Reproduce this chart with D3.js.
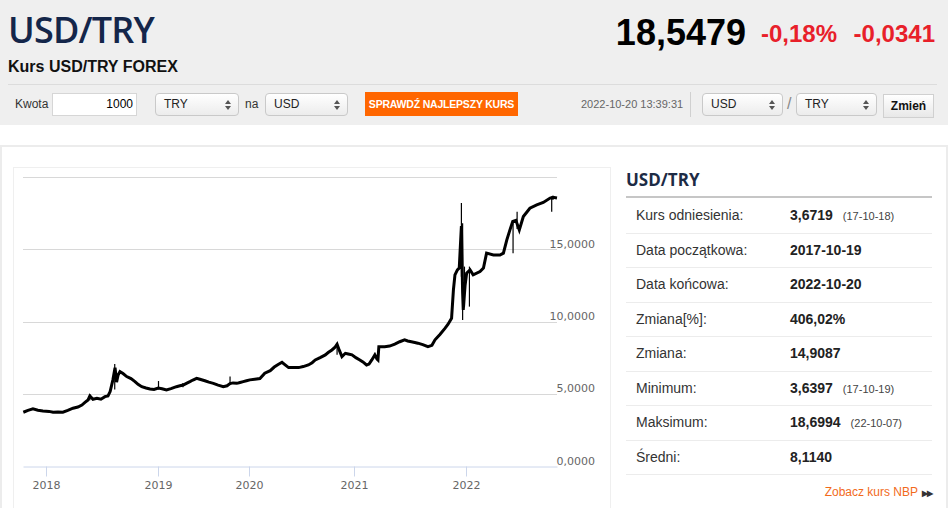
<!DOCTYPE html>
<html>
<head>
<meta charset="utf-8">
<script src="https://cdn.jsdelivr.net/npm/d3@7"></script>
<style>
  body { margin: 0; width: 948px; height: 508px; overflow: hidden; background: #fff; font-family: Arial, "Liberation Sans", sans-serif; position: relative; }
  .abs { position: absolute; }
  #top { left: 0; top: 0; width: 948px; height: 125px; background: #efefef; }
  #pair { left: 8px; top: 5px; font-family: "Open Sans", sans-serif; font-weight: 600; font-size: 36px; color: #14264a; letter-spacing: -0.8px; }
  #sub { left: 8px; top: 58px; font-weight: bold; font-size: 16px; color: #111; }
  #price { right: 202px; top: 12px; font-weight: bold; font-size: 36px; color: #000; }
  #pct { left: 761px; top: 20px; font-weight: bold; font-size: 24px; color: #e8202a; }
  #chg { right: 13px; top: 20px; font-weight: bold; font-size: 24px; color: #e8202a; }
  #hline { left: 8px; top: 84px; width: 929px; height: 1px; background: #dcdcdc; }
  .lbl { font-size: 12px; color: #333; top: 97px; }
  .box { top: 93px; height: 21px; border: 1px solid #c9c9c9; border-radius: 4px; background: linear-gradient(#ffffff, #ececec); font-size: 12px; color: #222; line-height: 21px; }
  .box span.t { position: absolute; left: 8px; }
  .box i { position: absolute; right: 7px; width: 0; height: 0; border-left: 3px solid transparent; border-right: 3px solid transparent; }
  .box i.up { top: 6px; border-bottom: 4px solid #555; }
  .box i.dn { top: 12px; border-top: 4px solid #555; }
  #amount { left: 52px; top: 93px; width: 83px; height: 21px; background: #fff; border: 1px solid #d6d6d6; font-size: 12px; line-height: 21px; text-align: right; }
  #btn { left: 365px; top: 92px; width: 153px; height: 24px; background: #ff6600; color: #fff; font-weight: bold; font-size: 10.5px; line-height: 24px; text-align: center; letter-spacing: -0.2px; }
  #ts { left: 581px; top: 98px; font-size: 11px; color: #666; }
  #vsep { left: 690px; top: 92px; width: 1px; height: 25px; background: #d0d0d0; }
  #zmien { left: 883px; top: 94px; width: 49px; height: 22px; border: 1px solid #d0d0d0; background: linear-gradient(#ffffff, #e8e8e8); font-weight: bold; font-size: 12px; line-height: 22px; text-align: center; color: #111; }
  #panel { left: 0; top: 145px; width: 944px; height: 380px; border: 2px solid #ececec; border-right-width: 3px; }
  #chartbox { left: 13px; top: 167px; width: 596px; height: 360px; border: 1px solid #efefef; }
  #ptitle { left: 626px; top: 168px; font-family: "Open Sans", sans-serif; font-weight: bold; font-size: 17px; color: #1d2b45; }
  #pline { left: 626px; top: 196px; width: 306px; height: 2px; background: #c6c6c6; }
  .row { position: absolute; left: 626px; width: 306px; border-bottom: 1px solid #ececec; }
  .row .k { position: absolute; left: 10px; font-size: 14px; color: #333; }
  .row .v { position: absolute; left: 164px; font-size: 14px; font-weight: bold; color: #222; }
  .row .n { font-size: 11px; font-weight: normal; color: #444; margin-left: 10px; }
  #nbp { right: 16px; top: 485px; font-size: 12px; color: #f26a1b; }
  #nbp b { color: #333; font-size: 8px; letter-spacing: -1px; margin-left: 4px; }
  svg { position: absolute; left: 0; top: 0; }
</style>
</head>
<body>
<div id="top" class="abs"></div>
<div id="pair" class="abs">USD/TRY</div>
<div id="sub" class="abs">Kurs USD/TRY FOREX</div>
<div id="price" class="abs">18,5479</div>
<div id="pct" class="abs">-0,18%</div>
<div id="chg" class="abs">-0,0341</div>
<div id="hline" class="abs"></div>
<div class="abs lbl" style="left:15px">Kwota</div>
<div id="amount" class="abs"><span style="padding-right:3px">1000</span></div>
<div class="abs box" style="left:155px;width:82px"><span class="t">TRY</span><i class="up"></i><i class="dn"></i></div>
<div class="abs lbl" style="left:245px">na</div>
<div class="abs box" style="left:265px;width:81px"><span class="t">USD</span><i class="up"></i><i class="dn"></i></div>
<div id="btn" class="abs">SPRAWDŹ NAJLEPSZY KURS</div>
<div id="ts" class="abs">2022-10-20 13:39:31</div>
<div id="vsep" class="abs"></div>
<div class="abs box" style="left:702px;width:79px"><span class="t">USD</span><i class="up"></i><i class="dn"></i></div>
<div class="abs lbl" style="left:787px;font-size:16px;top:95px;color:#888">/</div>
<div class="abs box" style="left:796px;width:79px"><span class="t">TRY</span><i class="up"></i><i class="dn"></i></div>
<div id="zmien" class="abs">Zmień</div>
<div id="panel" class="abs"></div>
<div id="chartbox" class="abs"></div>
<div id="ptitle" class="abs">USD/TRY</div>
<div id="pline" class="abs"></div>
<div id="table"></div>
<div id="nbp" class="abs">Zobacz kurs NBP<b>▶▶</b></div>
<svg id="chart" width="948" height="508"></svg>
<script>
// closing rates
const dates = [
  "2017-10-20","2017-11-04","2017-11-20","2017-12-06","2017-12-22",
  "2018-01-11","2018-01-24","2018-02-09","2018-02-25","2018-03-13","2018-03-30","2018-04-15","2018-04-28",
  "2018-05-08","2018-05-18","2018-05-24","2018-06-03","2018-06-16","2018-06-29","2018-07-12","2018-07-22",
  "2018-07-29","2018-08-07","2018-08-14","2018-08-19","2018-08-24","2018-08-30","2018-09-09","2018-09-21",
  "2018-10-05","2018-10-18","2018-10-28","2018-11-09","2018-11-23","2018-12-06","2018-12-19",
  "2019-01-02","2019-01-17","2019-02-04","2019-02-22","2019-03-16","2019-03-30","2019-04-12","2019-04-25",
  "2019-05-09","2019-05-21","2019-06-05","2019-06-18","2019-07-08","2019-07-24","2019-08-11","2019-08-30",
  "2019-09-20","2019-10-05","2019-10-17","2019-10-29","2019-11-13","2019-11-26","2019-12-09","2019-12-22",
  "2020-01-04","2020-01-21","2020-02-08","2020-02-25","2020-03-15","2020-03-29","2020-04-13","2020-04-25",
  "2020-05-06","2020-05-18","2020-06-03","2020-06-22","2020-07-08","2020-07-26","2020-08-08","2020-08-19",
  "2020-09-05","2020-09-23","2020-10-03","2020-10-16","2020-10-26","2020-11-03","2020-11-11","2020-11-20",
  "2020-12-02","2020-12-12","2020-12-25",
  "2021-01-07","2021-01-20","2021-01-30","2021-02-11","2021-02-19","2021-02-28","2021-03-10","2021-03-17",
  "2021-03-20","2021-03-23","2021-04-11","2021-04-27","2021-05-14","2021-05-30","2021-06-15","2021-06-25",
  "2021-07-07","2021-07-18","2021-07-28","2021-08-13","2021-08-30","2021-09-12","2021-09-22","2021-10-08",
  "2021-10-25","2021-11-03","2021-11-15","2021-11-21","2021-11-26","2021-12-04","2021-12-10","2021-12-17",
  "2021-12-21","2021-12-23","2021-12-29",
  "2022-01-03","2022-01-14","2022-01-24","2022-02-15","2022-02-26","2022-03-08","2022-03-30","2022-04-20",
  "2022-05-01","2022-05-12","2022-05-22","2022-05-31","2022-06-10","2022-06-21","2022-07-04","2022-07-25",
  "2022-08-16","2022-09-06","2022-09-28","2022-10-07","2022-10-20"
];
const closes = [
  3.72, 3.85, 3.95, 3.86, 3.81,
  3.78, 3.72, 3.74, 3.72, 3.85, 4.00, 4.08, 4.22,
  4.40, 4.57, 4.85, 4.62, 4.69, 4.62, 4.80, 4.85,
  5.15, 5.96, 6.80, 5.80, 6.30, 6.53, 6.40, 6.19,
  6.05, 5.84, 5.65, 5.49, 5.40, 5.33, 5.30,
  5.40, 5.35, 5.26, 5.35, 5.49, 5.55, 5.60, 5.72,
  5.84, 5.95, 6.07, 6.00, 5.90, 5.80, 5.72, 5.60,
  5.49, 5.55, 5.70, 5.75, 5.72, 5.78, 5.84, 5.90,
  5.96, 6.00, 6.05, 6.42, 6.60, 6.85, 7.04, 7.18,
  7.00, 6.81, 6.82, 6.81, 6.88, 6.99, 7.15, 7.34,
  7.50, 7.69, 7.85, 8.03, 8.20, 8.43, 8.00, 7.57,
  7.80, 7.75, 7.69,
  7.50, 7.34, 7.20, 6.99, 7.05, 7.34, 7.69, 7.40,
  7.34, 8.26, 8.26, 8.30, 8.43, 8.60, 8.73, 8.65,
  8.60, 8.55, 8.50, 8.40, 8.26, 8.35, 8.73, 9.10,
  9.54, 9.80, 10.23, 12.19, 13.23, 13.57, 13.70, 16.60,
  12.00, 10.80, 12.50,
  13.34, 13.57, 13.23, 13.46, 13.70, 14.73, 14.61, 14.60,
  14.73, 15.65, 16.34, 16.92, 17.00, 16.34, 17.27, 17.84,
  18.07, 18.24, 18.54, 18.60, 18.55
];

// long candle wicks (high / low) visible on the chart
const wickDates = ["2018-05-24","2018-08-13","2019-01-03","2019-04-11","2019-10-17","2020-11-03",
  "2021-12-17","2021-12-21","2021-12-27","2022-01-12","2022-06-01","2022-06-14","2022-10-03","2022-10-07"];
const wickHighs = [4.97, 7.06, 5.88, 5.75, 6.19, 8.50, 18.20, 16.80, 13.80, 13.80, 16.80, 17.60, 18.65, 18.70];
const wickLows  = [4.55, 5.30, 5.30, 5.45, 5.60, 7.70, 13.10, 10.10, 11.03, 11.03, 14.73, 16.40, 17.60, 18.40];

const yTicks = [0, 5, 10, 15, 20];
const yLabelTicks = [0, 5, 10, 15];
const xTickYears = [2018, 2019, 2020, 2021, 2022];

const statLabels = ["Kurs odniesienia:", "Data początkowa:", "Data końcowa:", "Zmiana[%]:", "Zmiana:", "Minimum:", "Maksimum:", "Średni:"];
const statValues = ["3,6719", "2017-10-19", "2022-10-20", "406,02%", "14,9087", "3,6397", "18,6994", "8,1140"];
const statNotes  = ["(17-10-18)", "", "", "", "", "(17-10-19)", "(22-10-07)", ""];

const parse = d3.timeParse("%Y-%m-%d");

// the source chart uses an ordinal axis (equal spacing per quote), so years get unequal widths
const x = d3.scaleTime()
  .domain([parse("2017-10-19"), ...xTickYears.map(y => new Date(y, 0, 1)), parse("2022-10-20")])
  .range([23, 46, 158, 249, 354, 466, 557]);
const y = d3.scaleLinear().domain([0, 20]).range([466, 177]);

const svg = d3.select("#chart");
const fmt = v => d3.format(".4f")(v).replace(".", ",");

// grid
svg.append("g").selectAll("line").data(yTicks.filter(t => t > 0)).join("line")
  .attr("x1", 23).attr("x2", 557)
  .attr("y1", d => Math.round(y(d)) + 0.5).attr("y2", d => Math.round(y(d)) + 0.5)
  .attr("stroke", "#d8d8d8");

svg.append("g").selectAll("text").data(yLabelTicks).join("text")
  .attr("x", 595).attr("y", d => y(d) - 1.5)
  .attr("text-anchor", "end")
  .attr("font-family", "DejaVu Sans, sans-serif").attr("font-size", 11).attr("fill", "#666")
  .text(fmt);

// x axis
const xAxis = d3.axisBottom(x)
  .tickValues(xTickYears.map(yr => new Date(yr, 0, 1)))
  .tickSize(10).tickSizeOuter(0).tickPadding(5)
  .tickFormat(d3.timeFormat("%Y"));
const gx = svg.append("g").attr("transform", "translate(0,466.5)").call(xAxis);
gx.select(".domain").attr("stroke", "#ccd6eb");
gx.selectAll(".tick line").attr("stroke", "#ccd6eb");
gx.selectAll("text").attr("font-family", "DejaVu Sans, sans-serif").attr("font-size", 11).attr("fill", "#666");

// wicks
svg.append("g").selectAll("line").data(wickDates).join("line")
  .attr("x1", d => x(parse(d))).attr("x2", d => x(parse(d)))
  .attr("y1", (d, i) => y(wickHighs[i])).attr("y2", (d, i) => y(wickLows[i]))
  .attr("stroke", "#000").attr("stroke-width", 1.2);

// price line
const pts = dates.map((d, i) => [parse(d), closes[i]]);
svg.append("path")
  .datum(pts)
  .attr("fill", "none")
  .attr("stroke", "#000")
  .attr("stroke-width", 3)
  .attr("stroke-linejoin", "miter")
  .attr("d", d3.line().x(d => x(d[0])).y(d => y(d[1])));

// stats table
const rows = d3.select("#table").selectAll("div").data(statLabels).join("div")
  .attr("class", "row")
  .style("top", (d, i) => (198 + i * 34.5) + "px")
  .style("height", "34.5px");
rows.append("span").attr("class", "k").style("top", "9px").text(d => d);
const vals = rows.append("span").attr("class", "v").style("top", "9px").text((d, i) => statValues[i]);
vals.filter((d, i) => statNotes[i] !== "").append("span").attr("class", "n").text((d, i) => statNotes[statLabels.indexOf(d)]);
</script>
</body>
</html>
